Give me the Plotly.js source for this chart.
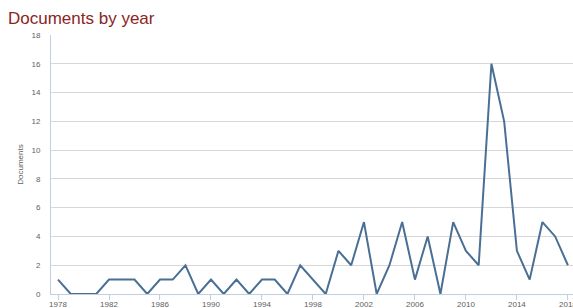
<!DOCTYPE html>
<html><head><meta charset="utf-8">
<script src="https://cdn.plot.ly/plotly-3.0.1.min.js"></script>
<style>html,body{margin:0;padding:0;background:#fff;}#chart{width:573px;height:308px;}</style>
</head><body><div id="chart"></div>
<script>
const years = [1978,1979,1980,1981,1982,1983,1984,1985,1986,1987,1988,1989,1990,1991,1992,1993,1994,1995,1996,1997,1998,1999,2000,2001,2002,2003,2004,2005,2006,2007,2008,2009,2010,2011,2012,2013,2014,2015,2016,2017,2018];
const documents = [1,0,0,0,1,1,1,0,1,1,2,0,1,0,1,0,1,1,0,2,1,0,3,2,5,0,2,5,1,4,0,5,3,2,16,12,3,1,5,4,2];

Plotly.newPlot('chart', [{
  x: years, y: documents, type: 'scatter', mode: 'lines',
  line: {color: '#4a6f95', width: 2}, hoverinfo: 'x+y'
}], {
  width: 573, height: 308,
  margin: {l: 51, r: 0, t: 35, b: 14},
  paper_bgcolor: '#fff', plot_bgcolor: '#fff',
  title: {text: 'Documents by year', x: 0.014, xanchor: 'left', y: 0.94, yanchor: 'middle',
    font: {family: 'Liberation Sans, Arial, sans-serif', size: 17, color: '#8b2525'}},
  xaxis: {range: [1977.45, 2018.4], tick0: 1978, dtick: 4, showgrid: false, zeroline: false,
    showline: true, linecolor: '#c0d0e0', linewidth: 1, ticks: 'outside', ticklen: 5, tickcolor: '#c0d0e0',
    ticklabelstandoff: -3, ticklabeloverflow: 'allow',
    tickfont: {family: 'Liberation Sans, Arial, sans-serif', size: 8, color: '#606060'}},
  yaxis: {range: [0, 18], dtick: 2, showgrid: true, gridcolor: '#d8d8d8', zeroline: false,
    showline: true, linecolor: '#c0d0e0', ticks: '', ticklabelstandoff: 8,
    tickfont: {family: 'Liberation Sans, Arial, sans-serif', size: 8, color: '#606060'},
    title: {text: 'Documents', standoff: 6, font: {family: 'Liberation Sans, Arial, sans-serif', size: 8, color: '#606060'}}},
  showlegend: false
}, {displayModeBar: false, staticPlot: true});
</script></body></html>
